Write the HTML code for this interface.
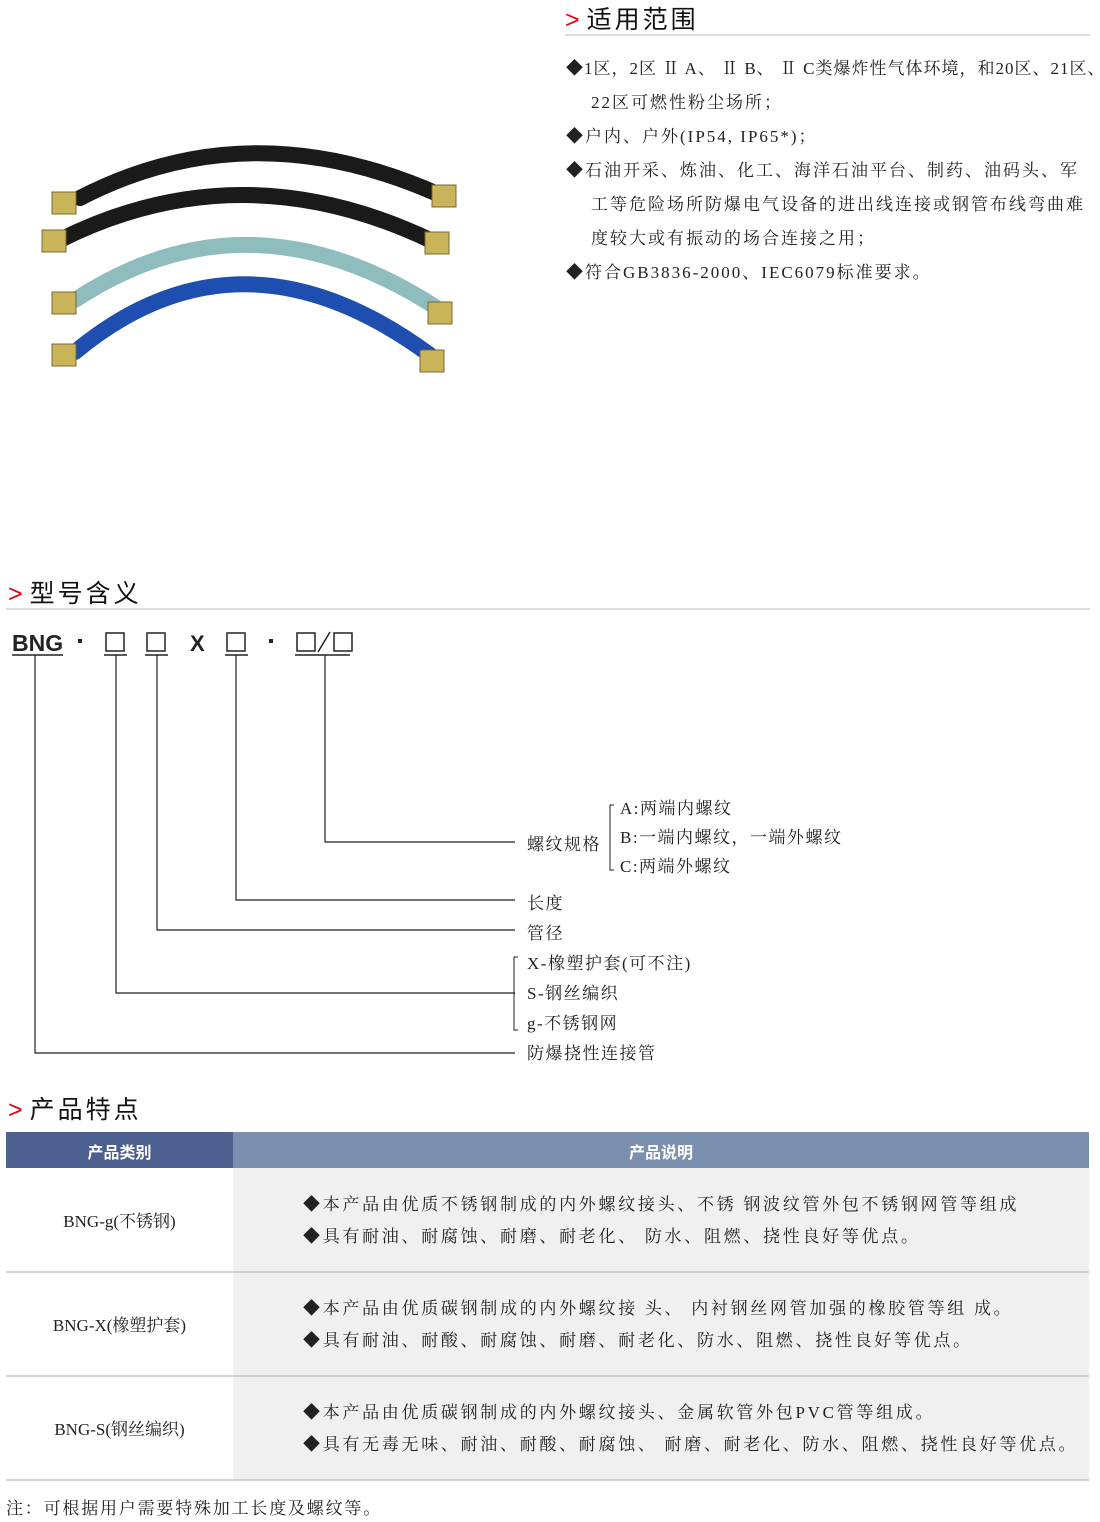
<!DOCTYPE html>
<html><head><meta charset="utf-8"><style>
body{margin:0;width:1100px;height:1522px;background:#fff;position:relative;font-family:"Liberation Serif","Noto Serif CJK SC","Noto Sans CJK SC",serif;color:#222;overflow:hidden}
.a{position:absolute;white-space:nowrap}
.h{font-family:"Liberation Sans","Noto Sans CJK SC",sans-serif;font-size:25px;letter-spacing:3px;color:#111}
.h b{color:#e60012;font-weight:normal;margin-right:4px}
.t{font-size:17px;letter-spacing:2px}
.tt{font-size:17px;letter-spacing:2.7px}
.d{font-size:17px;letter-spacing:1.5px}
</style></head><body>
<svg class="a" style="left:0;top:0" width="1100" height="1522">
<g fill="none" stroke-linecap="round">
<path d="M80 198 Q250 110 440 195" stroke="#1a1a1a" stroke-width="16"/>
<path d="M60 240 Q240 150 430 240" stroke="#1a1a1a" stroke-width="16"/>
<path d="M75 300 Q250 185 440 310" stroke="#8fbcbc" stroke-width="16"/>
<path d="M75 352 Q240 215 430 355" stroke="#1e4fb0" stroke-width="16"/>
</g>
<g fill="#c9b45a" stroke="#7a6a30">
<rect x="52" y="192" width="24" height="22"/><rect x="432" y="185" width="24" height="22"/>
<rect x="42" y="230" width="24" height="22"/><rect x="425" y="232" width="24" height="22"/>
<rect x="52" y="292" width="24" height="22"/><rect x="428" y="302" width="24" height="22"/>
<rect x="52" y="344" width="24" height="22"/><rect x="420" y="350" width="24" height="22"/>
</g>
<line x1="565" y1="35" x2="1090" y2="35" stroke="#bbb"/>
<line x1="6" y1="609" x2="1090" y2="609" stroke="#bbb"/>
<g stroke="#222" stroke-width="1.5" fill="none">
<line x1="12" y1="655" x2="63" y2="655"/><line x1="104" y1="655" x2="127" y2="655"/>
<line x1="145" y1="655" x2="168" y2="655"/><line x1="225" y1="655" x2="248" y2="655"/>
<line x1="295" y1="655" x2="350" y2="655"/>
<rect x="106" y="633" width="18" height="18"/><rect x="147" y="633" width="18" height="18"/>
<rect x="227" y="633" width="18" height="18"/><rect x="297" y="633" width="18" height="18"/>
<rect x="334" y="633" width="18" height="18"/>
<line x1="318" y1="652" x2="330" y2="632"/>
<path d="M325 655V842H515M236 655V900H515M157 655V930H515M116 655V993H515M35 655V1053H515" stroke-width="1.2"/>
<path d="M614 805H610V870H614M518 957H514V1030H518" stroke-width="1"/>
</g>
<text x="190" y="651" font-family="Liberation Sans" font-weight="bold" font-size="22" fill="#222">X</text>
<text x="12" y="651" font-family="Liberation Sans" font-weight="bold" font-size="23" fill="#222">BNG</text>
<rect x="78" y="639" width="4" height="4" fill="#222"/><rect x="269" y="639" width="4" height="4" fill="#222"/>
<rect x="6" y="1132" width="227" height="36" fill="#4d5f8e"/>
<rect x="233" y="1132" width="856" height="36" fill="#7b8fae"/>
<rect x="233" y="1168" width="856" height="312" fill="#f0f0f0"/>
<g stroke="#aaa"><line x1="6" y1="1272" x2="1089" y2="1272"/><line x1="6" y1="1376" x2="1089" y2="1376"/><line x1="6" y1="1480" x2="1089" y2="1480"/></g>
</svg>
<div class="a h" style="left:565px;top:0px"><b>&gt;</b>适用范围</div>
<div class="a t" style="left:566px;top:52px;line-height:34px"><span style="letter-spacing:1px">◆1区，2区 Ⅱ A、 Ⅱ B、 Ⅱ C类爆炸性气体环境，和20区、21区、</span><br>&nbsp;&nbsp;&nbsp;&nbsp;22区可燃性粉尘场所；<br>◆户内、户外(IP54, IP65*)；<br>◆石油开采、炼油、化工、海洋石油平台、制药、油码头、军<br>&nbsp;&nbsp;&nbsp;&nbsp;工等危险场所防爆电气设备的进出线连接或钢管布线弯曲难<br>&nbsp;&nbsp;&nbsp;&nbsp;度较大或有振动的场合连接之用；<br>◆符合GB3836-2000、IEC6079标准要求。</div>
<div class="a h" style="left:8px;top:574px"><b>&gt;</b>型号含义</div>
<div class="a d" style="left:527px;top:830px">螺纹规格</div>
<div class="a d" style="left:620px;top:794px;line-height:29px">A:两端内螺纹<br>B:一端内螺纹，一端外螺纹<br>C:两端外螺纹</div>
<div class="a d" style="left:527px;top:889px">长度</div>
<div class="a d" style="left:527px;top:919px">管径</div>
<div class="a d" style="left:527px;top:949px;line-height:30px">X-橡塑护套(可不注)<br>S-钢丝编织<br>g-不锈钢网</div>
<div class="a d" style="left:527px;top:1039px">防爆挠性连接管</div>
<div class="a h" style="left:8px;top:1090px"><b>&gt;</b>产品特点</div>
<div class="a" style="left:6px;top:1139px;width:227px;text-align:center;color:#fff;font-weight:bold;font-family:'Liberation Sans','Noto Sans CJK SC',sans-serif;font-size:16px">产品类别</div>
<div class="a" style="left:233px;top:1139px;width:856px;text-align:center;color:#fff;font-weight:bold;font-family:'Liberation Sans','Noto Sans CJK SC',sans-serif;font-size:16px">产品说明</div>
<div class="a d" style="left:6px;top:1207px;width:227px;text-align:center;letter-spacing:0">BNG-g(不锈钢)</div>
<div class="a d" style="left:6px;top:1311px;width:227px;text-align:center;letter-spacing:0">BNG-X(橡塑护套)</div>
<div class="a d" style="left:6px;top:1415px;width:227px;text-align:center;letter-spacing:0">BNG-S(钢丝编织)</div>
<div class="a tt" style="left:303px;top:1189px;line-height:32px">◆本产品由优质不锈钢制成的内外螺纹接头、不锈 钢波纹管外包不锈钢网管等组成<br>◆具有耐油、耐腐蚀、耐磨、耐老化、 防水、阻燃、挠性良好等优点。</div>
<div class="a tt" style="left:303px;top:1293px;line-height:32px">◆本产品由优质碳钢制成的内外螺纹接 头、 内衬钢丝网管加强的橡胶管等组 成。<br>◆具有耐油、耐酸、耐腐蚀、耐磨、耐老化、防水、阻燃、挠性良好等优点。</div>
<div class="a tt" style="left:303px;top:1397px;line-height:32px">◆本产品由优质碳钢制成的内外螺纹接头、金属软管外包PVC管等组成。<br>◆具有无毒无味、耐油、耐酸、耐腐蚀、 耐磨、耐老化、防水、阻燃、挠性良好等优点。</div>
<div class="a d" style="left:6px;top:1494px;letter-spacing:1.8px">注：可根据用户需要特殊加工长度及螺纹等。</div>
</body></html>
